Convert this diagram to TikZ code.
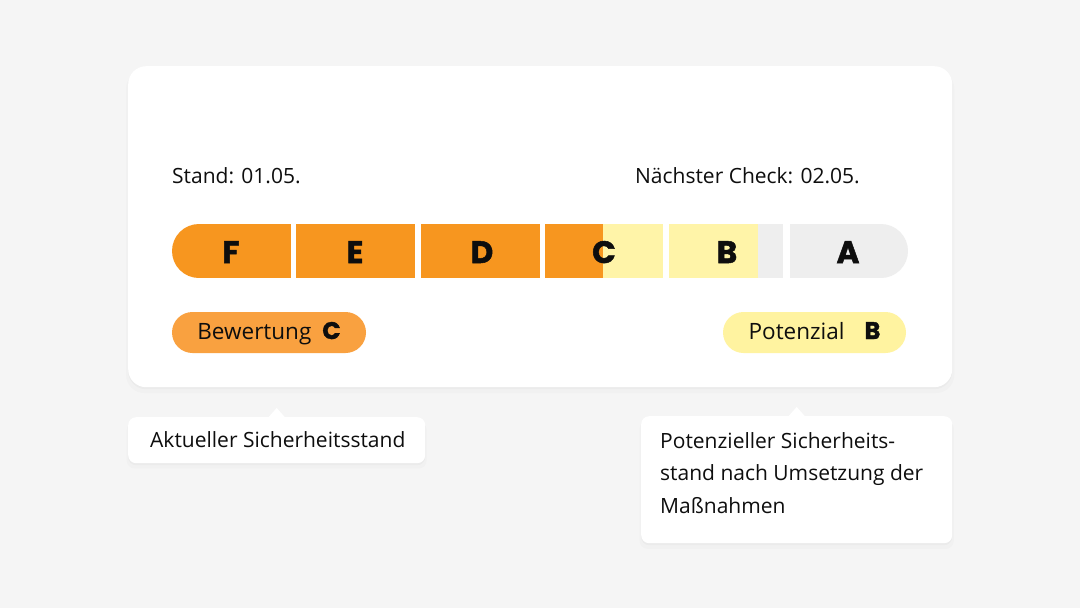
\documentclass[tikz,border=0pt]{standalone}
\usepackage{fontspec}
\setmainfont{Open Sans}
\newfontfamily\gradefont{Poppins}[BoldFeatures={FakeBold=1.6}]
\usetikzlibrary{shadows,positioning}

\definecolor{pagegray}{HTML}{F5F5F5}
\definecolor{barorange}{HTML}{F7961F}
\definecolor{baryellow}{HTML}{FFF4A8}
\definecolor{bargray}{HTML}{EEEEEE}
\definecolor{pillorange}{HTML}{F9A140}
\definecolor{pillyellow}{HTML}{FFF3A0}
\definecolor{ink}{HTML}{0E0E0E}

\begin{document}
\begin{tikzpicture}
[x = 1pt, y = -1pt, % one unit per pixel, y runs down
every node/.style = {inner sep=0pt, text=ink, font=\fontsize{21}{24}\selectfont},
card/.style = {fill=white, rounded corners=18pt,
  drop shadow={shadow xshift=0pt, shadow yshift=-2pt, opacity=.05},
  drop shadow={shadow xshift=0pt, shadow yshift=-5pt, shadow scale=1.005, opacity=.03}},
tip/.style = {fill=white, rounded corners=8pt,
  drop shadow={shadow xshift=0pt, shadow yshift=-2pt, opacity=.05},
  drop shadow={shadow xshift=0pt, shadow yshift=-5pt, shadow scale=1.01, opacity=.03}},
grade/.style = {anchor=base, font=\gradefont\bfseries\fontsize{31}{34}\selectfont},
pill/.style = {rounded corners=20.5pt, minimum height=41pt, text height=16pt, text depth=3pt,
  font=\fontsize{22.5}{24}\selectfont}]

\newcommand\pillgrade[1]{{\gradefont\bfseries\fontsize{24}{24}\selectfont #1}}

% background and card
\fill[pagegray] (0,0) rectangle (1080,608);
\node[card, minimum width=824pt, minimum height=321pt, anchor=north west] (card) at (128,66) {};

% dates
\node[anchor=base west] (stand) at (172,183) {Stand: 01.05.};
\node[anchor=base east] (check) at (860,183) {Nächster Check: 02.05.};

% the scale F..A
\begin{scope}
\clip[rounded corners=27pt] (172,224) rectangle (908,278);
\foreach \from/\to/\col in {172/291/barorange, 296/415/barorange, 421/540/barorange,
  545/603/barorange, 603/663/baryellow, 669/758/baryellow, 758/783/bargray, 790/908/bargray}
  \fill[\col] (\from,224) rectangle (\to,278);
\end{scope}
\node[grade] (gF) at (231,263) {F};
\node[grade] (gE) at (355,263) {E};
\node[grade] (gD) at (482,263) {D};
\node[grade] (gC) at (604,263) {C};
\node[grade] (gB) at (727,263) {B};
\node[grade] (gA) at (848,263) {A};

% rating pills
\node[pill, fill=pillorange, minimum width=194pt] (rating) at (269,332.5)
  {Bewertung\hspace{11pt}\pillgrade{C}};
\node[pill, fill=pillyellow, minimum width=183pt] (potential) at (814.5,332.5)
  {Potenzial\hspace{20pt}\pillgrade{B}};

% callouts
\node[tip, minimum width=297pt, minimum height=46pt, anchor=north west] (current) at (128,417) {};
\fill[white] ([xshift=-8pt]current.north) -- ([yshift=9pt]current.north) -- ([xshift=8pt]current.north) -- cycle;
\node[anchor=base west] (currenttext) at (150,447) {Aktueller Sicherheitsstand};

\node[tip, minimum width=311pt, minimum height=127pt, anchor=north west] (future) at (641,416) {};
\fill[white] ([xshift=-8pt]future.north) -- ([yshift=9pt]future.north) -- ([xshift=8pt]future.north) -- cycle;
\node[anchor=north west, align=left, font=\fontsize{21}{32.7}\selectfont] (futuretext) at (660,432)
  {Potenzieller Sicherheits-\\stand nach Umsetzung der\\Maßnahmen};
\end{tikzpicture}
\end{document}
